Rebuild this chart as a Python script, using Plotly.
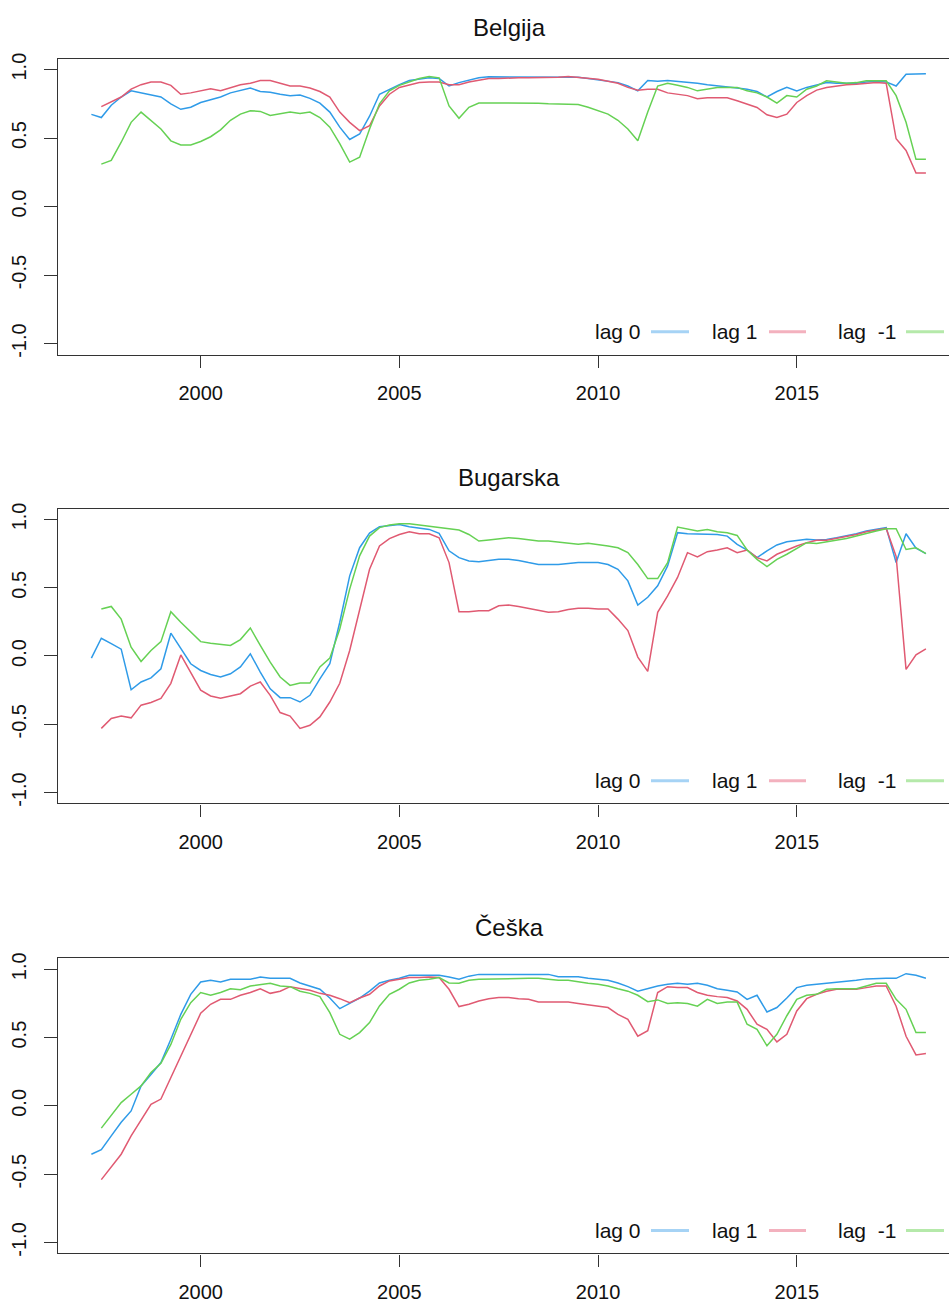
import plotly.graph_objects as go

W, H = 949, 1307

countries = ["Belgija", "Bugarska", "Češka"]
series_names = ["lag 0", "lag 1", "lag  -1"]
colors = ["#2F9BE8", "#E05A72", "#66D154"]
legend_colors = ["#A6D3F5", "#F3B1BE", "#B5E9AA"]

# quarterly time index: lag 0 starts 1997 Q2, lag 1 / lag -1 start 1997 Q3, all end 2018 Q2
t_lag0 = [1997.25 + 0.25 * i for i in range(85)]
t_lag1 = t_lag0[1:]

belgija_lag0 = [
    0.673, 0.65, 0.74,
    0.80, 0.845, 0.83, 0.82,
    0.80, 0.75, 0.71, 0.725,
    0.76, 0.78, 0.80, 0.83,
    0.85, 0.865, 0.84, 0.835,
    0.82, 0.81, 0.815, 0.79,
    0.755, 0.69, 0.58, 0.49,
    0.53, 0.66, 0.82, 0.857,
    0.89, 0.92, 0.93, 0.94,
    0.935, 0.88, 0.905, 0.92,
    0.94, 0.947, 0.947, 0.95,
    0.95, 0.95, 0.95, 0.947,
    0.947, 0.95, 0.945, 0.935,
    0.925, 0.915, 0.905, 0.88,
    0.845, 0.92, 0.915, 0.92,
    0.915, 0.905, 0.90, 0.89,
    0.88, 0.875, 0.865, 0.857,
    0.84, 0.80, 0.84, 0.87,
    0.845, 0.87, 0.89, 0.905,
    0.90, 0.90, 0.90, 0.91,
    0.915, 0.91, 0.88, 0.966,
    0.97, 0.97,
]
belgija_lag1 = [
    0.73, 0.765,
    0.80, 0.857, 0.89, 0.91,
    0.91, 0.885, 0.82, 0.83,
    0.845, 0.86, 0.845, 0.87,
    0.89, 0.90, 0.92, 0.92,
    0.90, 0.88, 0.88, 0.865,
    0.84, 0.80, 0.69, 0.615,
    0.555, 0.59, 0.735, 0.82,
    0.87, 0.89, 0.905, 0.91,
    0.91, 0.89, 0.89, 0.91,
    0.925, 0.935, 0.935, 0.94,
    0.94, 0.94, 0.94, 0.94,
    0.945, 0.95, 0.945, 0.94,
    0.93, 0.915, 0.90, 0.87,
    0.85, 0.857, 0.857, 0.83,
    0.82, 0.81, 0.787, 0.795,
    0.795, 0.795, 0.773, 0.746,
    0.724, 0.67, 0.65, 0.675,
    0.76, 0.81, 0.85, 0.87,
    0.88, 0.89, 0.893, 0.90,
    0.905, 0.90, 0.495, 0.41,
    0.245, 0.245,
]
belgija_lagm1 = [
    0.31, 0.337,
    0.47, 0.615, 0.69, 0.63,
    0.567, 0.48, 0.45, 0.45,
    0.475, 0.51, 0.56, 0.63,
    0.675, 0.70, 0.695, 0.665,
    0.675, 0.69, 0.68, 0.69,
    0.65, 0.58, 0.46, 0.325,
    0.36, 0.567, 0.75, 0.845,
    0.885, 0.91, 0.935, 0.95,
    0.94, 0.735, 0.645, 0.725,
    0.756, 0.756, 0.756, 0.756,
    0.756, 0.755, 0.755, 0.75,
    0.75, 0.75, 0.745, 0.725,
    0.70, 0.675, 0.63, 0.567,
    0.48, 0.69, 0.88, 0.90,
    0.886, 0.87, 0.845, 0.86,
    0.87, 0.87, 0.87, 0.845,
    0.83, 0.80, 0.755, 0.81,
    0.80, 0.857, 0.88, 0.918,
    0.91, 0.90, 0.905, 0.918,
    0.918, 0.918, 0.81, 0.615,
    0.345, 0.345,
]

bugarska_lag0 = [
    -0.016, 0.13, 0.09,
    0.05, -0.247, -0.19, -0.16,
    -0.094, 0.167, 0.05, -0.057,
    -0.106, -0.135, -0.154, -0.13,
    -0.08, 0.016, -0.118, -0.24,
    -0.305, -0.305, -0.337, -0.288,
    -0.167, -0.057, 0.247, 0.587,
    0.793, 0.90, 0.947, 0.956,
    0.963, 0.947, 0.937, 0.927,
    0.898, 0.77, 0.72, 0.696,
    0.69, 0.70, 0.708, 0.708,
    0.70, 0.684, 0.67, 0.67,
    0.67, 0.677, 0.684, 0.684,
    0.684, 0.67, 0.635, 0.55,
    0.373, 0.43, 0.514, 0.66,
    0.903, 0.895, 0.895, 0.895,
    0.89, 0.878, 0.818, 0.776,
    0.72, 0.77, 0.813, 0.837,
    0.847, 0.854, 0.85, 0.854,
    0.866, 0.878, 0.895, 0.915,
    0.927, 0.94, 0.684, 0.895,
    0.79, 0.75,
]
bugarska_lag1 = [
    -0.53, -0.458,
    -0.44, -0.453, -0.36, -0.34,
    -0.31, -0.20, 0.008, -0.118,
    -0.25, -0.293, -0.31, -0.293,
    -0.276, -0.22, -0.19, -0.288,
    -0.414, -0.44, -0.53, -0.507,
    -0.446, -0.337, -0.20, 0.04,
    0.344, 0.635, 0.806, 0.86,
    0.89, 0.91, 0.895, 0.895,
    0.866, 0.684, 0.324, 0.324,
    0.332, 0.332, 0.368, 0.373,
    0.363, 0.35, 0.332, 0.32,
    0.324, 0.34, 0.35, 0.35,
    0.344, 0.344, 0.27, 0.186,
    -0.008, -0.113, 0.32, 0.44,
    0.575, 0.757, 0.725, 0.764,
    0.776, 0.793, 0.757, 0.776,
    0.72, 0.696, 0.745, 0.776,
    0.806, 0.83, 0.847, 0.847,
    0.86, 0.878, 0.89, 0.91,
    0.922, 0.934, 0.73, -0.098,
    0.008, 0.052,
]
bugarska_lagm1 = [
    0.344, 0.363,
    0.27, 0.064, -0.04, 0.04,
    0.105, 0.324, 0.247, 0.174,
    0.105, 0.094, 0.086, 0.077,
    0.12, 0.205, 0.077, -0.045,
    -0.154, -0.215, -0.198, -0.198,
    -0.08, -0.016, 0.198, 0.49,
    0.733, 0.878, 0.94, 0.96,
    0.968, 0.968, 0.96, 0.95,
    0.94, 0.927, 0.922, 0.89,
    0.842, 0.85, 0.86, 0.866,
    0.86, 0.85, 0.842, 0.842,
    0.835, 0.825, 0.818, 0.825,
    0.818, 0.806, 0.793, 0.757,
    0.67, 0.567, 0.567, 0.684,
    0.944, 0.932, 0.915, 0.927,
    0.91, 0.903, 0.883, 0.776,
    0.708, 0.655, 0.708, 0.745,
    0.786, 0.83, 0.823, 0.835,
    0.847, 0.86, 0.878, 0.898,
    0.915, 0.932, 0.932, 0.78,
    0.793, 0.75,
]

ceska_lag0 = [
    -0.354, -0.32, -0.22,
    -0.12, -0.037, 0.146, 0.23,
    0.317, 0.488, 0.67, 0.817,
    0.907, 0.92, 0.907, 0.927,
    0.927, 0.927, 0.944, 0.934,
    0.934, 0.934, 0.90, 0.878,
    0.854, 0.79, 0.712, 0.75,
    0.79, 0.84, 0.90, 0.92,
    0.934, 0.956, 0.956, 0.956,
    0.956, 0.944, 0.927, 0.95,
    0.963, 0.963, 0.963, 0.963,
    0.963, 0.963, 0.963, 0.963,
    0.946, 0.946, 0.946, 0.934,
    0.927, 0.92, 0.90, 0.873,
    0.84, 0.86, 0.878, 0.89,
    0.898, 0.89, 0.898, 0.883,
    0.858, 0.846, 0.834, 0.78,
    0.81, 0.688, 0.72, 0.79,
    0.866, 0.883, 0.89, 0.90,
    0.907, 0.91, 0.92, 0.93,
    0.934, 0.934, 0.934, 0.968,
    0.956, 0.934,
]
ceska_lag1 = [
    -0.54, -0.45,
    -0.354, -0.22, -0.10, 0.012,
    0.05, 0.207, 0.366, 0.524,
    0.678, 0.744, 0.78, 0.78,
    0.81, 0.83, 0.858, 0.824,
    0.84, 0.873, 0.858, 0.846,
    0.824, 0.81, 0.785, 0.756,
    0.79, 0.817, 0.878, 0.915,
    0.927, 0.94, 0.94, 0.944,
    0.94, 0.854, 0.727, 0.744,
    0.768, 0.785, 0.793, 0.793,
    0.785, 0.78, 0.76, 0.76,
    0.76, 0.76, 0.75, 0.739,
    0.73, 0.72, 0.67, 0.634,
    0.51, 0.55, 0.83, 0.873,
    0.866, 0.866, 0.83, 0.81,
    0.80, 0.793, 0.768, 0.707,
    0.598, 0.56, 0.468, 0.524,
    0.695, 0.785, 0.817, 0.84,
    0.854, 0.854, 0.854, 0.866,
    0.878, 0.878, 0.73, 0.51,
    0.373, 0.383,
]
ceska_lagm1 = [
    -0.163, -0.073,
    0.024, 0.085, 0.146, 0.244,
    0.312, 0.45, 0.634, 0.756,
    0.83, 0.81, 0.83, 0.858,
    0.85, 0.878, 0.89, 0.898,
    0.878, 0.873, 0.84, 0.824,
    0.80, 0.683, 0.524, 0.488,
    0.537, 0.61, 0.732, 0.817,
    0.854, 0.90, 0.92, 0.927,
    0.94, 0.90, 0.898, 0.92,
    0.927, 0.927, 0.927, 0.927,
    0.932, 0.934, 0.934, 0.927,
    0.92, 0.92, 0.907, 0.898,
    0.89, 0.878, 0.858, 0.84,
    0.81, 0.763, 0.776, 0.75,
    0.756, 0.749, 0.73, 0.78,
    0.75, 0.76, 0.76, 0.598,
    0.56, 0.44, 0.524, 0.66,
    0.78, 0.81, 0.817, 0.854,
    0.858, 0.86, 0.858, 0.878,
    0.898, 0.898, 0.78, 0.707,
    0.537, 0.537,
]

panels = [
    (belgija_lag0, belgija_lag1, belgija_lagm1),
    (bugarska_lag0, bugarska_lag1, bugarska_lagm1),
    (ceska_lag0, ceska_lag1, ceska_lagm1),
]

x_ticks = [2000, 2005, 2010, 2015]
y_ticks = [-1.0, -0.5, 0.0, 0.5, 1.0]
y_ticktext = ["-1.0", "-0.5", "0.0", "0.5", "1.0"]

FONT = "Liberation Sans, Arial, sans-serif"
AX = "#333333"

# layout geometry (pixels)
box_left = 58
box_px = [(53, 351), (506, 803), (959, 1256)]
title_px = [22, 475, 928]
px_per_year = 39.74
x0 = 1996.41
x1 = x0 + (W - box_left) / px_per_year

fig = go.Figure()
layout = dict(
    width=W, height=H, autosize=False,
    margin=dict(l=0, r=0, t=0, b=0, pad=0),
    paper_bgcolor="white", plot_bgcolor="white",
    showlegend=False,
    font=dict(family=FONT, size=20, color="#111111"),
)
annotations = []
shapes = []

for i, (name, data) in enumerate(zip(countries, panels)):
    n = "" if i == 0 else str(i + 1)
    xs = [t_lag0, t_lag1, t_lag1]
    for s, (vals, col, sname) in enumerate(zip(data, colors, series_names)):
        fig.add_trace(go.Scatter(
            x=xs[s], y=vals, mode="lines", name=sname,
            line=dict(color=col, width=1.5),
            xaxis="x" + n, yaxis="y" + n, hoverinfo="skip",
        ))
    top, bot = box_px[i]
    layout["xaxis" + n] = dict(
        domain=[box_left / W, 1.0], range=[x0, x1], anchor="y" + n,
        showline=True, mirror=True, linecolor=AX, linewidth=1.3,
        ticks="outside", ticklen=12, tickwidth=1.3, tickcolor=AX,
        tickvals=x_ticks, ticktext=[str(v) for v in x_ticks],
        tickfont=dict(size=20, family=FONT, color="#111111"),
        showgrid=False, zeroline=False, ticklabelstandoff=8,
    )
    layout["yaxis" + n] = dict(
        domain=[1 - bot / H, 1 - top / H], range=[-1.08, 1.08], anchor="x" + n,
        showline=True, mirror=False, linecolor=AX, linewidth=1.3,
        ticks="outside", ticklen=13, tickwidth=1.3, tickcolor=AX,
        tickvals=y_ticks, ticktext=y_ticktext, tickangle=-90,
        tickfont=dict(size=20, family=FONT, color="#111111"),
        showgrid=False, zeroline=False, ticklabelstandoff=10,
    )
    annotations.append(dict(
        text=name, x=509 / W, y=1 - title_px[i] / H, xref="paper", yref="paper",
        xanchor="center", yanchor="middle", showarrow=False,
        font=dict(size=24, family=FONT, color="#111111"),
    ))
    # legend (text followed by a line sample), bottom-right inside the box
    ly = bot - 23
    text_right = [643, 760, 898]
    seg = [(651, 689), (769, 806), (906, 944)]
    for k in range(3):
        annotations.append(dict(
            text=series_names[k].replace("  ", "\u00a0\u00a0"),
            x=text_right[k] / W, y=1 - ly / H, xref="paper", yref="paper",
            xanchor="right", yanchor="middle", showarrow=False,
            font=dict(size=21, family=FONT, color="#111111"),
        ))
        shapes.append(dict(
            type="line", xref="paper", yref="paper",
            x0=seg[k][0] / W, x1=seg[k][1] / W, y0=1 - ly / H, y1=1 - ly / H,
            line=dict(color=legend_colors[k], width=3),
        ))

layout["annotations"] = annotations
layout["shapes"] = shapes
fig.update_layout(**layout)

fig.write_html("out.html", config={"displayModeBar": False},
               post_script="document.body.style.margin='0px';document.body.style.overflow='hidden';")
